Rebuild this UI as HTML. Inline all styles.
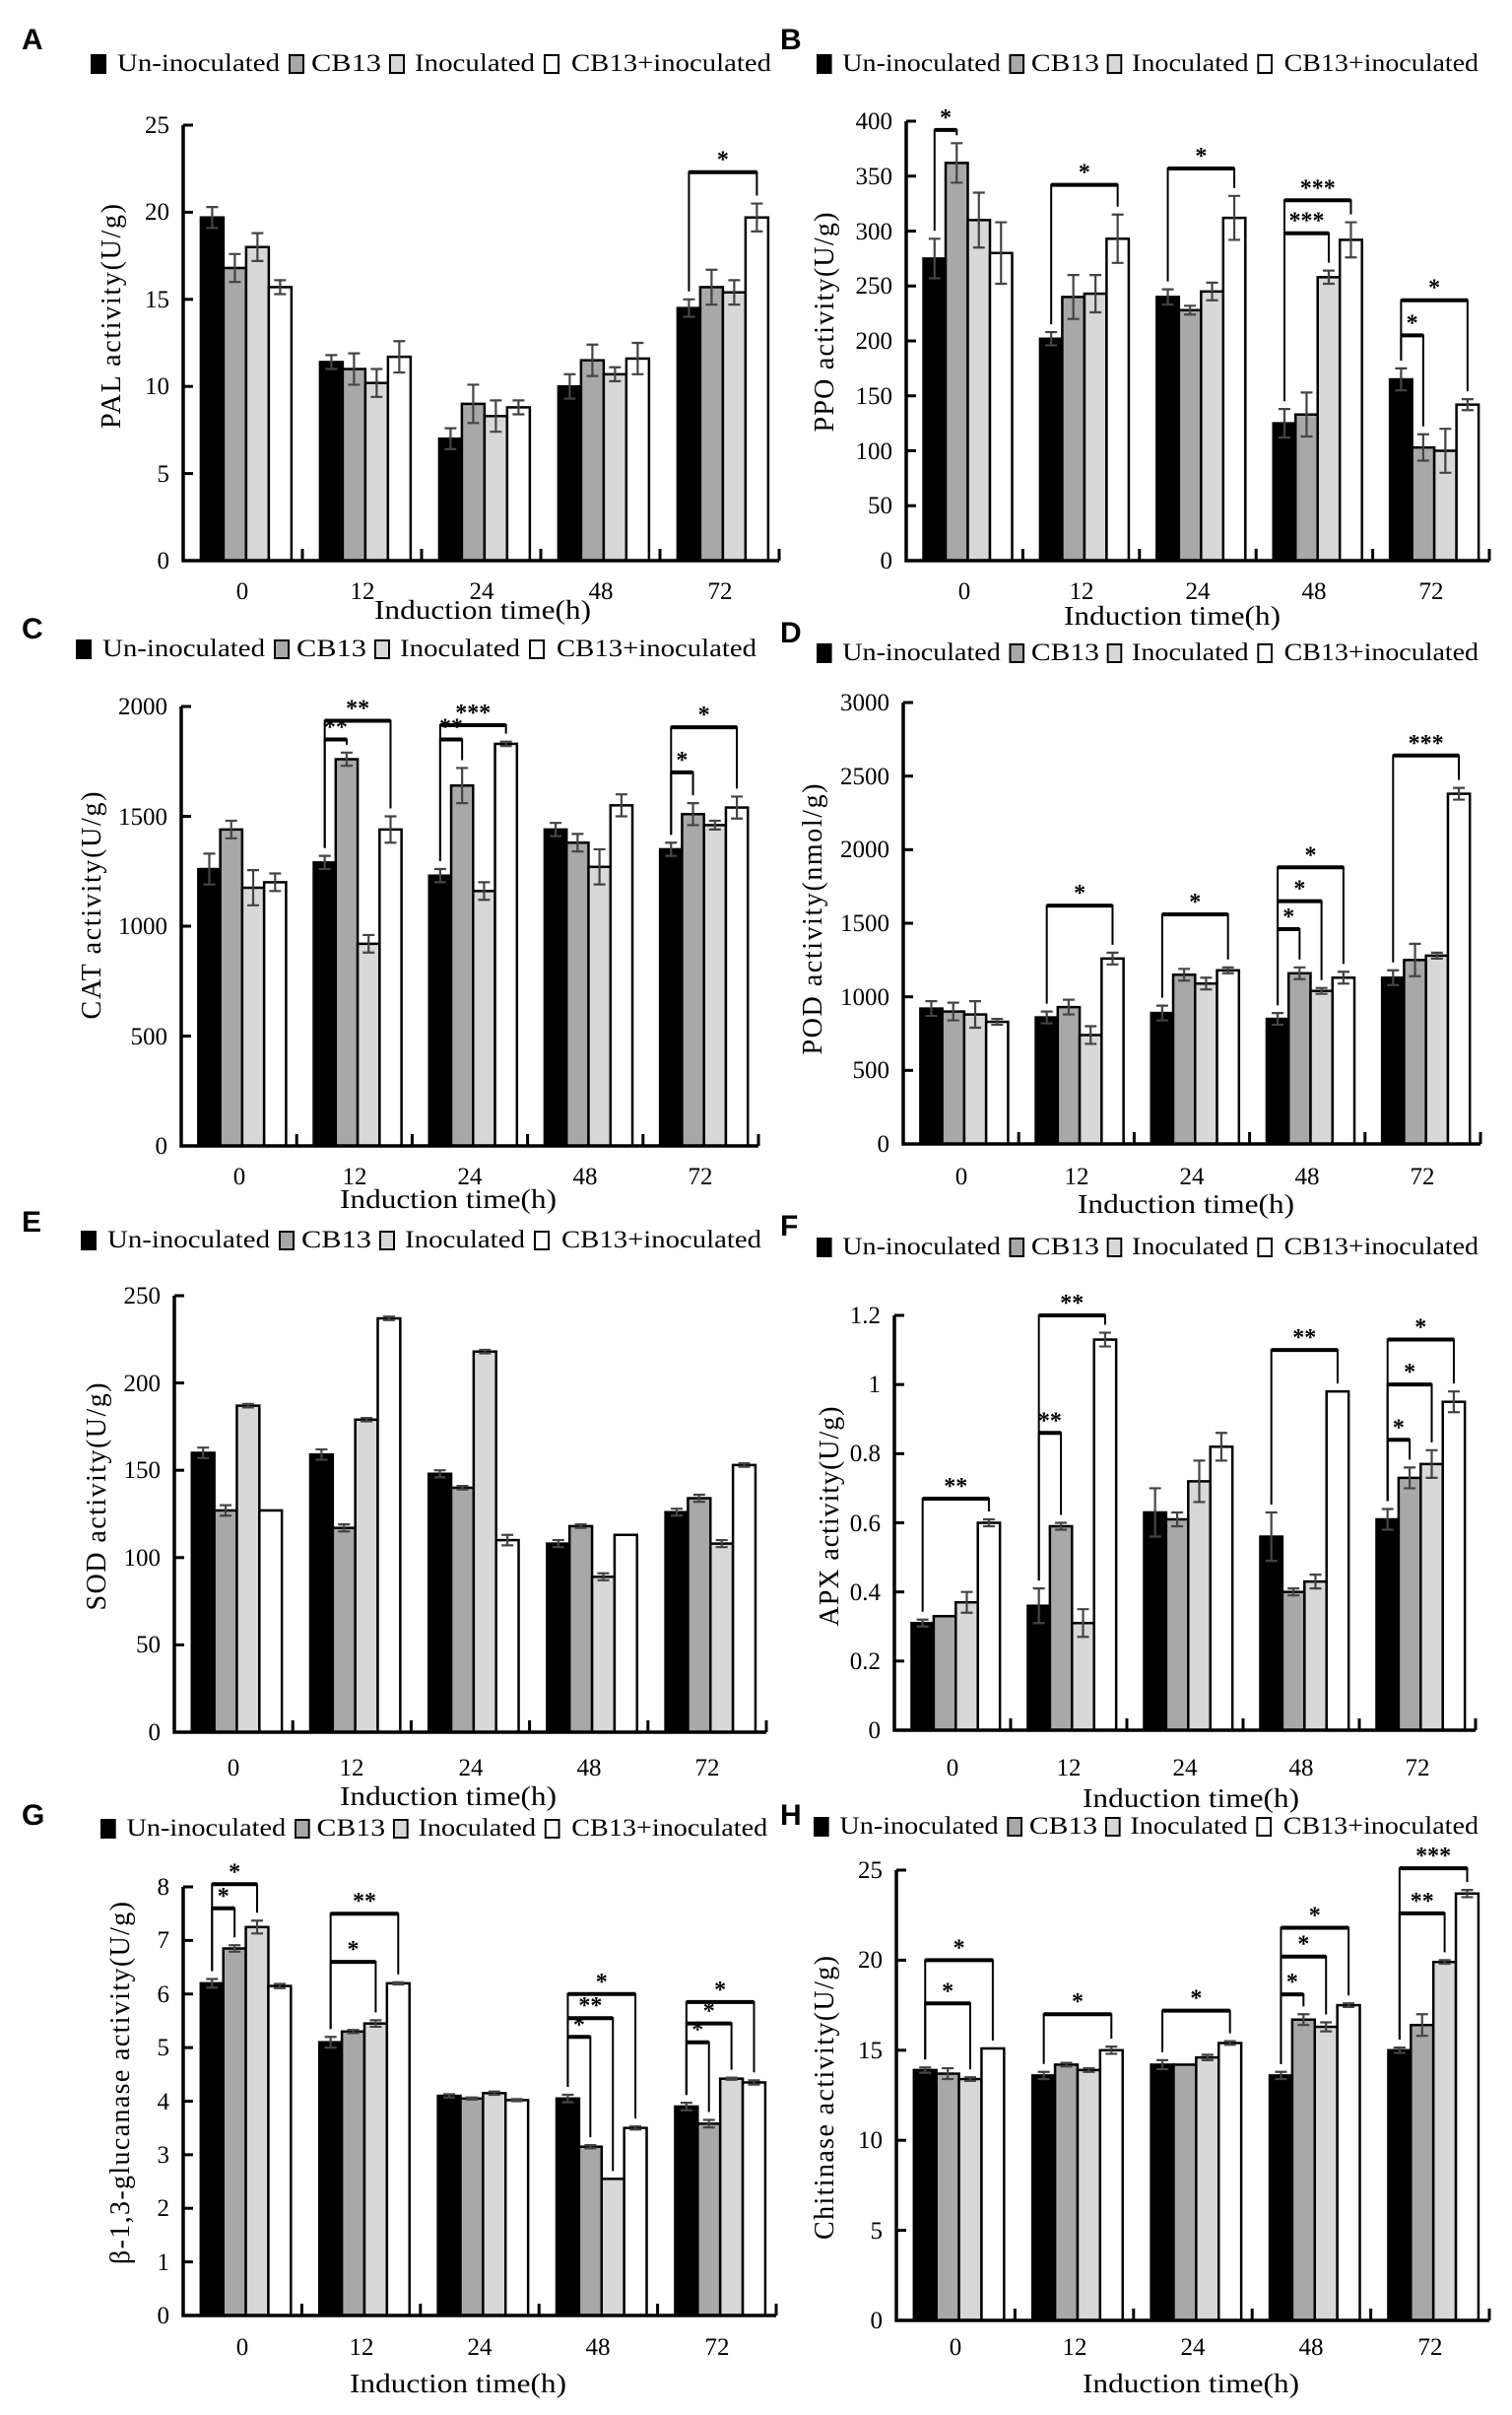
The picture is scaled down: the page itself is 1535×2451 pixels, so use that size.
<!DOCTYPE html>
<html><head><meta charset="utf-8"><style>
html,body{margin:0;padding:0;background:#fff}
svg{display:block}
text{font-family:"Liberation Serif",serif;fill:#000}
.tk{font-size:25px;text-anchor:end}
.xt{font-size:25px;text-anchor:middle}
.yl{font-size:28px;text-anchor:middle;letter-spacing:2px}
.xl{font-size:27px;text-anchor:middle}
.lg{font-size:25px}
.pl{font-family:"Liberation Sans",sans-serif;font-weight:bold;font-size:30px}
</style></head><body>
<svg id="s" width="1535" height="2451" viewBox="0 0 1535 2451" xmlns="http://www.w3.org/2000/svg">
<defs>
<g id="leg">
<rect x="0" y="-16" width="14" height="18" fill="#000" stroke="#000" stroke-width="2"/>
<text class="lg" x="26" y="0" textLength="165" lengthAdjust="spacingAndGlyphs">Un-inoculated</text>
<rect x="201" y="-16" width="14" height="18" fill="#a8a8a8" stroke="#000" stroke-width="2"/>
<text class="lg" x="223" y="0" textLength="71" lengthAdjust="spacingAndGlyphs">CB13</text>
<rect x="303" y="-16" width="14" height="18" fill="#d8d8d8" stroke="#000" stroke-width="2"/>
<text class="lg" x="328" y="0" textLength="122" lengthAdjust="spacingAndGlyphs">Inoculated</text>
<rect x="460" y="-16" width="14" height="18" fill="#fff" stroke="#000" stroke-width="2"/>
<text class="lg" x="487" y="0" textLength="203" lengthAdjust="spacingAndGlyphs">CB13+inoculated</text>
</g>
</defs>
<text class="pl" x="22" y="50">A</text>
<text class="pl" x="792" y="50">B</text>
<text class="pl" x="22" y="648">C</text>
<text class="pl" x="792" y="652">D</text>
<text class="pl" x="22" y="1250">E</text>
<text class="pl" x="792" y="1254">F</text>
<text class="pl" x="22" y="1852">G</text>
<text class="pl" x="792" y="1852">H</text>

<use href="#leg" transform="translate(93,72)"/>
<use href="#leg" transform="translate(830,72) scale(0.9725,1)"/>
<use href="#leg" transform="translate(78,666)"/>
<use href="#leg" transform="translate(830,670) scale(0.9725,1)"/>
<use href="#leg" transform="translate(83,1266)"/>
<use href="#leg" transform="translate(830,1273) scale(0.9725,1)"/>
<use href="#leg" transform="translate(103,1863) scale(0.98,1)"/>
<use href="#leg" transform="translate(827,1861) scale(0.9768,1)"/>

<!-- Y axis labels -->
<text class="yl" transform="translate(122,320) rotate(-90)" textLength="230">PAL activity(U/g)</text>
<text class="yl" transform="translate(846,326) rotate(-90)" textLength="225">PPO activity(U/g)</text>
<text class="yl" transform="translate(102,918) rotate(-90)" textLength="233">CAT activity(U/g)</text>
<text class="yl" transform="translate(834,932) rotate(-90)" textLength="277">POD activity(nmol/g)</text>
<text class="yl" transform="translate(107,1518) rotate(-90)" textLength="233">SOD activity(U/g)</text>
<text class="yl" transform="translate(851,1538) rotate(-90)" textLength="225">APX activity(U/g)</text>
<text class="yl" transform="translate(131,2113) rotate(-90)" textLength="370">β-1,3-glucanase activity(U/g)</text>
<text class="yl" transform="translate(846,2128) rotate(-90)" textLength="290">Chitinase activity(U/g)</text>

<!-- X axis labels -->
<text class="xl" x="490" y="628" textLength="220" lengthAdjust="spacingAndGlyphs">Induction time(h)</text>
<text class="xl" x="1190" y="634" textLength="220" lengthAdjust="spacingAndGlyphs">Induction time(h)</text>
<text class="xl" x="455" y="1226" textLength="220" lengthAdjust="spacingAndGlyphs">Induction time(h)</text>
<text class="xl" x="1204" y="1231" textLength="220" lengthAdjust="spacingAndGlyphs">Induction time(h)</text>
<text class="xl" x="455" y="1832" textLength="220" lengthAdjust="spacingAndGlyphs">Induction time(h)</text>
<text class="xl" x="1209" y="1834" textLength="220" lengthAdjust="spacingAndGlyphs">Induction time(h)</text>
<text class="xl" x="465" y="2428" textLength="220" lengthAdjust="spacingAndGlyphs">Induction time(h)</text>
<text class="xl" x="1209" y="2428" textLength="220" lengthAdjust="spacingAndGlyphs">Induction time(h)</text>

<!-- Y tick labels -->
<g class="tk">
<text x="172" y="577">0</text><text x="172" y="489">5</text><text x="172" y="400">10</text><text x="172" y="312">15</text><text x="172" y="223">20</text><text x="172" y="135">25</text>
<text x="906" y="577">0</text><text x="906" y="521">50</text><text x="906" y="466">100</text><text x="906" y="410">150</text><text x="906" y="354">200</text><text x="906" y="298">250</text><text x="906" y="243">300</text><text x="906" y="187">350</text><text x="906" y="131">400</text>
<text x="170" y="1171">0</text><text x="170" y="1060">500</text><text x="170" y="948">1000</text><text x="170" y="837">1500</text><text x="170" y="725">2000</text>
<text x="903" y="1169">0</text><text x="903" y="1094">500</text><text x="903" y="1020">1000</text><text x="903" y="945">1500</text><text x="903" y="870">2000</text><text x="903" y="796">2500</text><text x="903" y="721">3000</text>
<text x="163" y="1766">0</text><text x="163" y="1677">50</text><text x="163" y="1589">100</text><text x="163" y="1500">150</text><text x="163" y="1412">200</text><text x="163" y="1323">250</text>
<text x="894" y="1764">0</text><text x="894" y="1694">0.2</text><text x="894" y="1624">0.4</text><text x="894" y="1554">0.6</text><text x="894" y="1483">0.8</text><text x="894" y="1413">1</text><text x="894" y="1343">1.2</text>
<text x="172" y="2358">0</text><text x="172" y="2304">1</text><text x="172" y="2249">2</text><text x="172" y="2195">3</text><text x="172" y="2141">4</text><text x="172" y="2086">5</text><text x="172" y="2032">6</text><text x="172" y="1977">7</text><text x="172" y="1923">8</text>
<text x="896" y="2363">0</text><text x="896" y="2272">5</text><text x="896" y="2180">10</text><text x="896" y="2089">15</text><text x="896" y="1997">20</text><text x="896" y="1906">25</text>
</g>
<!-- X tick labels -->
<g class="xt">
<text x="246" y="608">0</text><text x="368" y="608">12</text><text x="489" y="608">24</text><text x="610" y="608">48</text><text x="731" y="608">72</text>
<text x="979" y="608">0</text><text x="1098" y="608">12</text><text x="1216" y="608">24</text><text x="1334" y="608">48</text><text x="1453" y="608">72</text>
<text x="243" y="1202">0</text><text x="360" y="1202">12</text><text x="477" y="1202">24</text><text x="594" y="1202">48</text><text x="711" y="1202">72</text>
<text x="976" y="1202">0</text><text x="1093" y="1202">12</text><text x="1210" y="1202">24</text><text x="1327" y="1202">48</text><text x="1444" y="1202">72</text>
<text x="237" y="1802">0</text><text x="357" y="1802">12</text><text x="478" y="1802">24</text><text x="598" y="1802">48</text><text x="718" y="1802">72</text>
<text x="967" y="1802">0</text><text x="1085" y="1802">12</text><text x="1203" y="1802">24</text><text x="1321" y="1802">48</text><text x="1439" y="1802">72</text>
<text x="246" y="2390">0</text><text x="367" y="2390">12</text><text x="487" y="2390">24</text><text x="607" y="2390">48</text><text x="728" y="2390">72</text>
<text x="970" y="2390">0</text><text x="1091" y="2390">12</text><text x="1211" y="2390">24</text><text x="1331" y="2390">48</text><text x="1452" y="2390">72</text>
</g>
<g id="plots"></g>
</svg>
<script>
(function(){
var NS="http://www.w3.org/2000/svg",G=document.getElementById("plots");
function el(t,a){var e=document.createElementNS(NS,t);for(var k in a)e.setAttribute(k,a[k]);G.appendChild(e);return e;}
var fills=["#000","#a8a8a8","#d8d8d8","#fff"];
var P=[
{ax:186,rx:791,yt:127,y0:569,max:25,step:5,e:0.6,
 d:[[19.7,16.8,18,15.7],[11.4,11,10.2,11.7],[7,9,8.3,8.8],[10,11.5,10.7,11.6],[14.5,15.7,15.4,19.7]],
 er:[[0.6,0.8,0.8,0.4],[0.4,0.9,0.8,0.9],[0.6,1.1,0.9,0.4],[0.7,0.9,0.4,0.9],[0.5,1,0.7,0.8]],
 b:[[4,0,3,22.3,"*"]]},
{ax:920,rx:1512,yt:123,y0:569,max:400,step:50,
 d:[[275,362,310,280],[202,240,243,293],[240,228,245,312],[125,133,258,292],[165,103,100,142]],
 er:[[18,18,25,28],[6,20,17,22],[7,4,8,20],[13,20,6,16],[10,12,20,5]],
 b:[[0,0,1,392,"*"],[1,0,3,342,"*"],[2,0,3,357,"*"],[3,0,3,328,"***"],[3,0,2,298,"***"],[4,0,3,237,"*"],[4,0,1,205,"*"]]},
{ax:184,rx:770,yt:717,y0:1163,max:2000,step:500,
 d:[[1260,1440,1175,1200],[1290,1760,920,1440],[1230,1640,1160,1830],[1440,1380,1270,1550],[1350,1510,1460,1540]],
 er:[[70,40,80,40],[30,30,40,60],[30,80,40,10],[30,40,80,50],[30,50,20,50]],
 b:[[1,0,3,1935,"**"],[1,0,1,1850,"**"],[2,0,3,1915,"***"],[2,0,1,1850,"**"],[4,0,3,1905,"*"],[4,0,1,1700,"*"]]},
{ax:917,rx:1503,yt:713,y0:1161,max:3000,step:500,
 d:[[920,900,880,830],[860,930,740,1260],[890,1150,1090,1180],[850,1160,1040,1130],[1130,1250,1280,2380]],
 er:[[50,60,90,20],[40,50,60,40],[50,40,40,20],[40,40,20,40],[50,110,20,40]],
 b:[[1,0,3,1620,"*"],[2,0,3,1560,"*"],[3,0,3,1880,"*"],[3,0,2,1650,"*"],[3,0,1,1460,"*"],[4,0,3,2640,"***"]]},
{ax:177,rx:778,yt:1315,y0:1758,max:250,step:50,
 d:[[160,127,187,127],[159,117,179,237],[148,140,218,110],[108,118,89,113],[126,134,108,153]],
 er:[[3,3,1,0],[3,2,1,1],[2,1,1,3],[2,1,2,0],[2,2,2,1]],b:[]},
{ax:908,rx:1498,yt:1335,y0:1756,max:1.2,step:0.2,
 d:[[0.31,0.33,0.37,0.60],[0.36,0.59,0.31,1.13],[0.63,0.61,0.72,0.82],[0.56,0.40,0.43,0.98],[0.61,0.73,0.77,0.95]],
 er:[[0.01,0,0.03,0.01],[0.05,0.01,0.04,0.02],[0.07,0.02,0.06,0.04],[0.07,0.01,0.02,0],[0.03,0.03,0.04,0.03]],
 b:[[0,0,3,0.67,"**"],[1,0,3,1.2,"**"],[1,0,1,0.86,"**"],[3,0,3,1.1,"**"],[4,0,3,1.13,"*"],[4,0,2,1.0,"*"],[4,0,1,0.84,"*"]]},
{ax:186,rx:788,yt:1915,y0:2350,max:8,step:1,
 d:[[6.2,6.85,7.25,6.15],[5.1,5.3,5.45,6.2],[4.1,4.05,4.15,4.02],[4.05,3.15,2.55,3.5],[3.9,3.58,4.42,4.35]],
 er:[[0.08,0.06,0.12,0.04],[0.1,0.03,0.06,0.02],[0.03,0.02,0.03,0.02],[0.07,0.03,0,0.03],[0.07,0.07,0.02,0.04]],
 b:[[0,0,2,8.05,"*"],[0,0,1,7.6,"*"],[1,0,3,7.5,"**"],[1,0,2,6.6,"*"],[3,0,3,6.0,"*"],[3,0,2,5.55,"**"],[3,0,1,5.2,"*"],[4,0,3,5.85,"*"],[4,0,2,5.45,"*"],[4,0,1,5.1,"*"]]},
{ax:910,rx:1512,yt:1898,y0:2355,max:25,step:5,
 d:[[13.9,13.7,13.4,15.1],[13.6,14.2,13.9,15],[14.2,14.2,14.6,15.4],[13.6,16.7,16.3,17.5],[15,16.4,19.9,23.7]],
 er:[[0.15,0.3,0.1,0],[0.2,0.1,0.1,0.2],[0.25,0,0.15,0.1],[0.2,0.3,0.25,0.1],[0.15,0.6,0.1,0.2]],
 b:[[0,0,3,20,"*"],[0,0,2,17.6,"*"],[1,0,3,17,"*"],[2,0,3,17.2,"*"],[3,0,3,21.8,"*"],[3,0,2,20.2,"*"],[3,0,1,18.1,"*"],[4,0,3,25.1,"***"],[4,0,2,22.6,"**"]]}
];
P.forEach(function(p){
 var per=(p.rx-p.ax)/5,bw=per*0.19,off=per*0.148,sc=(p.y0-p.yt)/p.max;
 function Y(v){return p.y0-v*sc;}
 function bx(g,i){return p.ax+g*per+off+i*bw;}
 p.d.forEach(function(gr,g){gr.forEach(function(v,i){
  var x=bx(g,i),y=Y(v);
  el("rect",{x:x,y:y,width:bw,height:p.y0-y,fill:fills[i],stroke:"#000","stroke-width":2.5});
  var e=p.er[g][i]*sc;
  if(e>0.5){
   var cx=x+bw/2;
   el("path",{d:"M"+cx+" "+(y-e)+"V"+(y+e)+"M"+(cx-6)+" "+(y-e)+"h12M"+(cx-6)+" "+(y+e)+"h12",stroke:"#444","stroke-width":2.2,fill:"none"});
  }
 });});
 // axes
 el("path",{d:"M"+p.ax+" "+(p.yt)+"V"+p.y0+"H"+p.rx,stroke:"#000","stroke-width":3.5,fill:"none"});
 for(var v=0;v<=p.max+1e-9;v+=p.step){var y=Y(v);el("path",{d:"M"+p.ax+" "+y+"h10",stroke:"#000","stroke-width":3});}
 for(var g=1;g<=5;g++){var x=p.ax+g*per;el("path",{d:"M"+x+" "+p.y0+"v-12",stroke:"#000","stroke-width":3});}
 // brackets
 p.b.forEach(function(b){
  var g=b[0],i=b[1],j=b[2],yl=Y(b[3]);
  var x1=bx(g,i)+bw/2,x2=bx(g,j)+bw/2;
  var t1=Y(p.d[g][i]+p.er[g][i])-8,t2=Y(p.d[g][j]+p.er[g][j])-8;
  el("path",{d:"M"+x1+" "+t1+"V"+yl+"H"+x2+"V"+t2,stroke:"#000","stroke-width":2,fill:"none"});
  el("path",{d:"M"+x1+" "+yl+"H"+x2,stroke:"#000","stroke-width":4});
  var t=el("text",{x:(x1+x2)/2,y:yl-5,"text-anchor":"middle","font-size":"24","font-weight":"bold"});
  t.textContent=b[4];
 });
});
})();
</script>
</body></html>
